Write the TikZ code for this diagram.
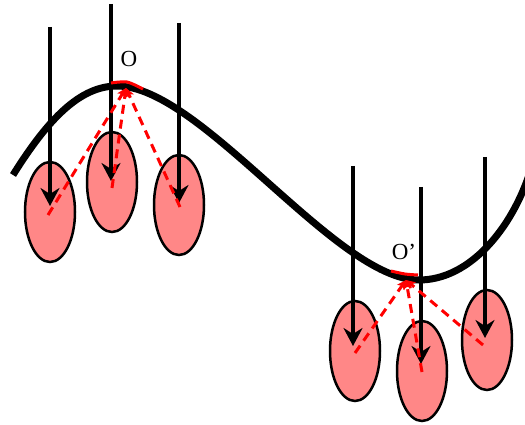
\documentclass[tikz,border=0pt]{standalone}
\usepackage{fontspec}
\setmainfont{Liberation Serif}
\usetikzlibrary{shapes.geometric,arrows.meta}
\definecolor{bobfill}{RGB}{255,135,135}
\begin{document}
\begin{tikzpicture}[x=1pt,y=-1pt,
  bob/.style={ellipse,draw=black,line width=2.5pt,fill=bobfill,
    minimum width=50pt,minimum height=100pt,inner sep=0pt},
  weight/.style={line width=3.2pt,-{Stealth[length=18pt,width=19pt,inset=6pt]}},
  ray/.style={red,line width=3pt,dash pattern=on 9pt off 6pt,
    -{Stealth[length=9pt,width=9pt,inset=2pt]}},
  mark arc/.style={red,line width=3pt},
  lbl/.style={font=\fontsize{23}{23}\selectfont,inner sep=0pt}]
\useasboundingbox (0,0) rectangle (525,425);

% pendulum bobs
\node[bob] (b1) at (50,212) {};
\node[bob] (b2) at (112,182) {};
\node[bob] (b3) at (179,205) {};
\node[bob] (b4) at (355,351) {};
\node[bob] (b5) at (422,371) {};
\node[bob] (b6) at (487,340) {};

% the wavy track: crest, slope, trough
\draw[line width=7pt] (13,175)
  .. controls (48,119) and (80,86) .. (117,86)
  .. controls (201,86) and (336,280) .. (419,280)
  .. controls (470,280) and (512,228) .. (530,172);

% pivot points
\coordinate (o) at (126,88);
\coordinate (o2) at (406,280);
\node[lbl] (lo) at (129,59) {O};
\node[lbl] (lo2) at (404,252) {O’};

% vertical weight arrows
\coordinate (t1) at (50,27);   \coordinate (h1) at (50,206);
\coordinate (t2) at (111,4);   \coordinate (h2) at (111,181);
\coordinate (t3) at (179,23);  \coordinate (h3) at (179,203);
\coordinate (t4) at (353,166); \coordinate (h4) at (353,346);
\coordinate (t5) at (421,187); \coordinate (h5) at (421,364);
\coordinate (t6) at (485,157); \coordinate (h6) at (485,338);
\foreach \i in {1,...,6} \draw[weight] (t\i) -- (h\i);

% dashed radii to the pivots
\coordinate (c1) at (48,215);
\coordinate (c2) at (112,188);
\coordinate (c3) at (180,207);
\coordinate (c4) at (355,353);
\coordinate (c5) at (422,372);
\coordinate (c6) at (483,345);
\draw[ray] (c1) -- (o);
\draw[ray] (c2) -- (o);
\draw[ray] (c3) -- (o);
\draw[ray] (c4) -- (o2);
\draw[ray] (c5) -- (o2);
\draw[ray] (c6) -- (o2);

% red arcs marking the curvature at the pivots
\draw[mark arc] plot[smooth] coordinates {(111,83) (127,82) (143,89)};
\draw[mark arc] plot[smooth] coordinates {(391,271) (405,274) (418,275)};
\end{tikzpicture}
\end{document}
